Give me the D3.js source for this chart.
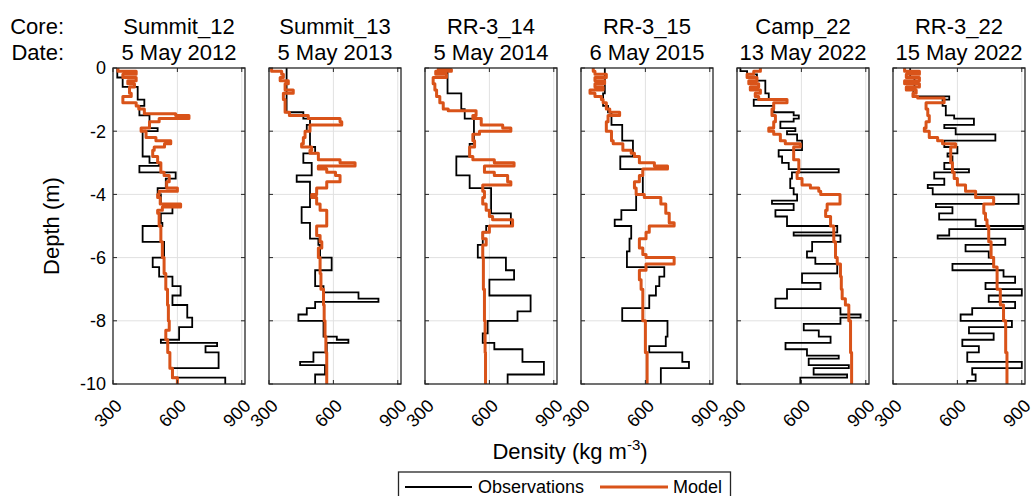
<!DOCTYPE html>
<html>
<head>
<meta charset="utf-8">
<script src="https://cdn.jsdelivr.net/npm/d3@7"></script>
<style>
  body { margin: 0; background: #fff; }
  svg { display: block; font-family: 'Liberation Sans', Arial, sans-serif; }
</style>
</head>
<body>
<svg width="1035" height="496"></svg>
<script>
const width = 1035
const height = 496

// cores and dates
const cores = ['Summit_12', 'Summit_13', 'RR-3_14', 'RR-3_15', 'Camp_22', 'RR-3_22']
const dates = ['5 May 2012', '5 May 2013', '5 May 2014', '6 May 2015', '13 May 2022', '15 May 2022']
const xTicks = [300, 600, 900]
const yTicks = [0, 2, 4, 6, 8, 10]

// observations: layer boundaries (m below surface) and densities (kg m-3)
const obsDepth = [
  [0, 0.3, 0.6, 1.0, 1.2, 1.5, 1.9, 2.0, 2.8, 3.0, 3.1, 3.3, 3.5, 3.8, 4.0, 4.3, 4.6, 4.9, 5.0, 5.5, 6.0, 6.3, 6.6, 6.9, 7.2, 7.5, 7.9, 8.2, 8.6, 8.7, 8.8, 9.0, 9.5, 9.8, 10],
  [0, 1.4, 1.6, 1.8, 2.0, 2.5, 2.7, 3.0, 3.4, 3.6, 4.4, 4.9, 5.4, 5.6, 6.0, 6.4, 6.9, 7.1, 7.3, 7.4, 7.6, 7.8, 8.0, 8.5, 8.6, 8.7, 9.0, 9.3, 9.4, 9.7, 10],
  [0, 0.8, 1.3, 1.6, 2.4, 2.8, 3.4, 3.8, 4.6, 5.0, 5.2, 5.6, 6.0, 6.4, 6.7, 7.2, 7.7, 8.0, 8.4, 8.7, 8.9, 9.3, 9.7, 10],
  [0, 0.8, 1.2, 1.4, 1.8, 2.3, 2.8, 3.2, 4.0, 4.5, 4.8, 5.0, 5.4, 5.8, 6.3, 6.6, 6.9, 7.2, 7.6, 8.0, 8.5, 8.8, 9.0, 9.3, 9.5, 10],
  [0, 0.1, 0.2, 0.4, 0.8, 1.0, 1.2, 1.4, 1.5, 1.6, 1.7, 1.9, 2.0, 2.1, 2.3, 2.6, 2.8, 3.0, 3.2, 3.3, 3.5, 3.8, 4.0, 4.2, 4.3, 4.5, 4.7, 5.0, 5.2, 5.3, 5.5, 5.8, 6.0, 6.2, 6.5, 6.8, 7.0, 7.3, 7.6, 7.8, 7.9, 8.1, 8.3, 8.5, 8.7, 8.9, 9.1, 9.2, 9.4, 9.5, 9.7, 9.8, 10],
  [0, 0.3, 0.6, 0.9, 1.0, 1.2, 1.5, 1.6, 1.8, 1.9, 2.1, 2.3, 2.5, 2.7, 2.8, 3.0, 3.2, 3.3, 3.5, 3.7, 3.8, 4.0, 4.3, 4.4, 4.6, 4.8, 5.0, 5.1, 5.3, 5.4, 5.6, 5.8, 6.0, 6.2, 6.4, 6.6, 6.8, 7.0, 7.2, 7.4, 7.6, 7.8, 8.0, 8.2, 8.4, 8.6, 8.8, 9.0, 9.3, 9.5, 9.7, 9.9, 10]
]
const obsDensity = [
  [320, 345, 415, 446, 423, 470, 508, 438, 470, 515, 423, 592, 546, 508, 523, 577, 523, 530, 438, 538, 485, 515, 577, 615, 577, 646, 669, 608, 523, 785, 731, 792, 577, 823],
  [382, 460, 491, 476, 491, 515, 460, 499, 429, 491, 452, 491, 530, 538, 592, 515, 554, 717, 810, 515, 476, 437, 554, 616, 670, 569, 507, 445, 561, 515],
  [405, 469, 485, 528, 508, 446, 508, 608, 700, 585, 569, 546, 677, 715, 600, 792, 731, 592, 569, 623, 754, 854, 685],
  [411, 403, 426, 442, 492, 542, 483, 588, 557, 488, 457, 534, 526, 514, 688, 665, 649, 618, 492, 703, 695, 618, 772, 803, 672],
  [316, 347, 393, 432, 448, 378, 471, 564, 588, 564, 502, 572, 533, 580, 603, 494, 510, 541, 774, 556, 548, 564, 580, 463, 564, 479, 533, 767, 564, 782, 650, 626, 665, 767, 603, 689, 533, 479, 782, 876, 782, 611, 681, 736, 526, 626, 774, 634, 821, 657, 813, 595],
  [380, 400, 395, 562, 531, 546, 585, 677, 539, 592, 777, 539, 600, 554, 577, 539, 654, 492, 539, 462, 485, 885, 500, 577, 515, 685, 908, 562, 508, 823, 638, 746, 769, 577, 815, 869, 731, 900, 746, 869, 669, 615, 854, 654, 769, 623, 700, 646, 900, 669, 685, 646]
]

// model: layer boundaries and densities
const modDepth = [
  [0, 0.1, 0.2, 0.3, 0.4, 0.5, 0.6, 0.8, 0.9, 1.1, 1.2, 1.3, 1.45, 1.5, 1.6, 1.7, 1.9, 2.0, 2.2, 2.3, 2.4, 2.5, 2.6, 2.8, 3.0, 3.3, 3.4, 3.6, 3.8, 3.9, 4.0, 4.1, 4.3, 4.4, 4.5, 4.6, 5.0, 5.5, 6.0, 6.5, 7.0, 7.5, 8.0, 8.3, 8.6, 9.0, 9.5, 9.8, 10],
  [0, 0.1, 0.2, 0.3, 0.4, 0.5, 0.7, 0.8, 1.0, 1.4, 1.5, 1.6, 1.7, 1.8, 2.0, 2.2, 2.4, 2.5, 2.6, 2.7, 2.9, 3.0, 3.1, 3.2, 3.3, 3.4, 3.6, 3.8, 4.0, 4.1, 4.3, 4.5, 4.8, 5.0, 5.3, 5.5, 5.7, 6.0, 6.5, 7.0, 7.5, 8.0, 8.5, 9.0, 9.5, 10],
  [0, 0.05, 0.1, 0.2, 0.3, 0.5, 0.7, 0.9, 1.1, 1.3, 1.35, 1.5, 1.6, 1.8, 1.9, 2.0, 2.1, 2.3, 2.5, 2.8, 2.9, 3.0, 3.1, 3.3, 3.4, 3.6, 3.7, 3.9, 4.1, 4.3, 4.5, 4.7, 4.8, 5.0, 5.2, 5.4, 5.6, 6.0, 7.0, 8.0, 9.0, 10],
  [0, 0.1, 0.2, 0.3, 0.4, 0.5, 0.6, 0.7, 0.8, 0.9, 1.0, 1.1, 1.3, 1.4, 1.5, 1.7, 2.0, 2.3, 2.4, 2.6, 2.7, 2.8, 3.0, 3.1, 3.2, 3.4, 3.6, 3.8, 4.0, 4.1, 4.3, 4.6, 4.9, 5.0, 5.2, 5.4, 5.7, 5.9, 6.0, 6.2, 6.4, 6.7, 7.0, 8.0, 9.0, 10],
  [0, 0.1, 0.2, 0.3, 0.4, 0.5, 0.6, 0.7, 0.8, 0.9, 1.0, 1.1, 1.3, 1.5, 1.7, 1.9, 2.0, 2.1, 2.3, 2.4, 2.5, 2.7, 2.9, 3.1, 3.3, 3.5, 3.7, 3.8, 3.9, 4.0, 4.3, 4.5, 4.7, 5.0, 5.5, 6.0, 6.2, 6.6, 7.0, 7.3, 7.5, 8.0, 9.0, 10],
  [0, 0.1, 0.2, 0.3, 0.4, 0.5, 0.6, 0.7, 0.8, 0.9, 0.95, 1.1, 1.3, 1.5, 1.7, 1.9, 2.0, 2.2, 2.3, 2.4, 2.5, 2.8, 3.0, 3.3, 3.5, 3.7, 3.9, 4.1, 4.3, 4.6, 4.8, 5.0, 5.5, 6.0, 6.3, 7.0, 7.5, 8.0, 9.0, 10]
]
const modDensity = [
  [323, 408, 346, 408, 369, 400, 377, 385, 346, 408, 420, 446, 592, 654, 515, 470, 431, 454, 500, 569, 540, 492, 485, 508, 523, 538, 562, 550, 600, 515, 508, 520, 615, 530, 508, 515, 523, 530, 538, 546, 554, 558, 562, 546, 555, 565, 577, 600],
  [312, 359, 367, 352, 390, 375, 413, 367, 375, 395, 483, 631, 639, 491, 468, 460, 452, 499, 491, 530, 631, 701, 530, 569, 610, 631, 569, 522, 499, 522, 538, 569, 569, 522, 538, 546, 530, 538, 542, 554, 557, 561, 565, 569, 569],
  [362, 423, 350, 400, 338, 346, 354, 369, 385, 408, 538, 523, 562, 662, 700, 554, 523, 531, 508, 523, 623, 715, 577, 623, 685, 700, 569, 577, 569, 585, 600, 615, 708, 600, 569, 585, 569, 572, 577, 580, 582],
  [357, 365, 418, 365, 410, 365, 403, 342, 365, 395, 403, 418, 434, 480, 426, 418, 442, 450, 495, 534, 549, 572, 642, 703, 588, 572, 549, 557, 595, 672, 695, 711, 734, 618, 603, 572, 588, 603, 734, 603, 572, 580, 588, 600, 608],
  [409, 378, 347, 393, 355, 401, 362, 409, 385, 401, 533, 471, 463, 479, 471, 448, 471, 502, 525, 595, 564, 564, 588, 588, 580, 603, 642, 681, 690, 780, 720, 713, 736, 751, 759, 767, 782, 786, 790, 805, 821, 829, 834],
  [354, 423, 362, 423, 354, 423, 362, 408, 393, 415, 538, 454, 462, 469, 454, 446, 469, 508, 531, 592, 569, 569, 577, 585, 600, 638, 685, 769, 723, 731, 738, 746, 757, 769, 785, 800, 815, 825, 831]
]

const obsColor = '#000000'
const modColor = '#D95319'
const axisColor = '#262626'
const gridColor = '#e1e1e1'

const panelLeft = 113
const panelStep = 156
const panelW = 132
const plotTop = 68
const plotBottom = 384

const svg = d3.select('svg')

const y = d3.scaleLinear().domain([0, 10]).range([plotTop, plotBottom])

// layers -> step points
function steps(depth, dens) {
  const pts = []
  dens.forEach((d, i) => {
    pts.push([d, depth[i]])
    pts.push([d, depth[i + 1]])
  })
  return pts
}

// row labels
svg.append('text').attr('x', 64).attr('y', 34).attr('text-anchor', 'end')
  .attr('font-size', 22).attr('fill', '#000').text('Core:')
svg.append('text').attr('x', 64).attr('y', 60).attr('text-anchor', 'end')
  .attr('font-size', 22).attr('fill', '#000').text('Date:')

cores.forEach((core, k) => {
  const left = panelLeft + k * panelStep
  const x = d3.scaleLinear().domain([300, 915]).range([left, left + panelW])
  const g = svg.append('g')

  // clip
  g.append('clipPath').attr('id', 'clip' + k)
    .append('rect').attr('x', left).attr('y', plotTop).attr('width', panelW).attr('height', plotBottom - plotTop)

  // grid
  g.selectAll('.vgrid').data(xTicks.slice(1)).enter().append('line')
    .attr('x1', d => x(d)).attr('x2', d => x(d)).attr('y1', plotTop).attr('y2', plotBottom)
    .attr('stroke', gridColor).attr('stroke-width', 1)
  g.selectAll('.hgrid').data(yTicks.slice(1, -1)).enter().append('line')
    .attr('x1', left).attr('x2', left + panelW).attr('y1', d => y(d)).attr('y2', d => y(d))
    .attr('stroke', gridColor).attr('stroke-width', 1)

  const line = d3.line().x(d => x(d[0])).y(d => y(d[1]))

  g.append('path').datum(steps(obsDepth[k], obsDensity[k]))
    .attr('d', line).attr('fill', 'none').attr('stroke', obsColor)
    .attr('stroke-width', 1.8).attr('stroke-linejoin', 'miter')
    .attr('clip-path', `url(#clip${k})`)
  g.append('path').datum(steps(modDepth[k], modDensity[k]))
    .attr('d', line).attr('fill', 'none').attr('stroke', modColor)
    .attr('stroke-width', 3).attr('stroke-linejoin', 'round')
    .attr('clip-path', `url(#clip${k})`)

  // ticks (inside, both sides)
  g.selectAll('.tb').data(xTicks).enter().append('line')
    .attr('x1', d => x(d)).attr('x2', d => x(d)).attr('y1', plotBottom).attr('y2', plotBottom - 4)
    .attr('stroke', axisColor)
  g.selectAll('.tt').data(xTicks).enter().append('line')
    .attr('x1', d => x(d)).attr('x2', d => x(d)).attr('y1', plotTop).attr('y2', plotTop + 4)
    .attr('stroke', axisColor)
  g.selectAll('.tl').data(yTicks).enter().append('line')
    .attr('x1', left).attr('x2', left + 4).attr('y1', d => y(d)).attr('y2', d => y(d))
    .attr('stroke', axisColor)
  g.selectAll('.tr').data(yTicks).enter().append('line')
    .attr('x1', left + panelW).attr('x2', left + panelW - 4).attr('y1', d => y(d)).attr('y2', d => y(d))
    .attr('stroke', axisColor)

  // box
  g.append('rect').attr('x', left).attr('y', plotTop).attr('width', panelW).attr('height', plotBottom - plotTop)
    .attr('fill', 'none').attr('stroke', axisColor).attr('stroke-width', 1.3)

  // x tick labels, rotated
  g.selectAll('.xl').data(xTicks).enter().append('text')
    .attr('transform', d => `translate(${x(d) + 10},${plotBottom + 23}) rotate(-45)`)
    .attr('text-anchor', 'end').attr('font-size', 18).attr('fill', '#000')
    .text(d => d)

  // y tick labels on first panel
  if (k === 0) {
    g.selectAll('.yl').data(yTicks).enter().append('text')
      .attr('x', left - 7).attr('y', d => y(d)).attr('dy', '0.35em')
      .attr('text-anchor', 'end').attr('font-size', 18).attr('fill', '#000')
      .text(d => d === 0 ? '0' : '-' + d)
  }

  // titles
  g.append('text').attr('x', left + panelW / 2).attr('y', 34).attr('text-anchor', 'middle')
    .attr('font-size', 22).attr('fill', '#000').text(core)
  g.append('text').attr('x', left + panelW / 2).attr('y', 60).attr('text-anchor', 'middle')
    .attr('font-size', 22).attr('fill', '#000').text(dates[k])
})

// axis labels
const xl = svg.append('text').attr('x', 570).attr('y', 459).attr('text-anchor', 'middle')
  .attr('font-size', 22).attr('fill', '#000')
xl.append('tspan').text('Density (kg m')
xl.append('tspan').attr('font-size', 15).attr('dy', -9).text('-3')
xl.append('tspan').attr('dy', 9).text(')')

svg.append('text').attr('transform', 'translate(59,226) rotate(-90)')
  .attr('text-anchor', 'middle').attr('font-size', 22).attr('fill', '#000').text('Depth (m)')

// legend
const leg = svg.append('g')
leg.append('rect').attr('x', 398.5).attr('y', 472).attr('width', 332).attr('height', 40)
  .attr('fill', '#fff').attr('stroke', axisColor).attr('stroke-width', 1.3)
leg.append('line').attr('x1', 405).attr('x2', 472).attr('y1', 487).attr('y2', 487)
  .attr('stroke', obsColor).attr('stroke-width', 1.8)
leg.append('text').attr('x', 478).attr('y', 493).attr('font-size', 18).attr('fill', '#000').text('Observations')
leg.append('line').attr('x1', 600).attr('x2', 668).attr('y1', 487).attr('y2', 487)
  .attr('stroke', modColor).attr('stroke-width', 3)
leg.append('text').attr('x', 673).attr('y', 493).attr('font-size', 18).attr('fill', '#000').text('Model')
</script>
</body>
</html>
